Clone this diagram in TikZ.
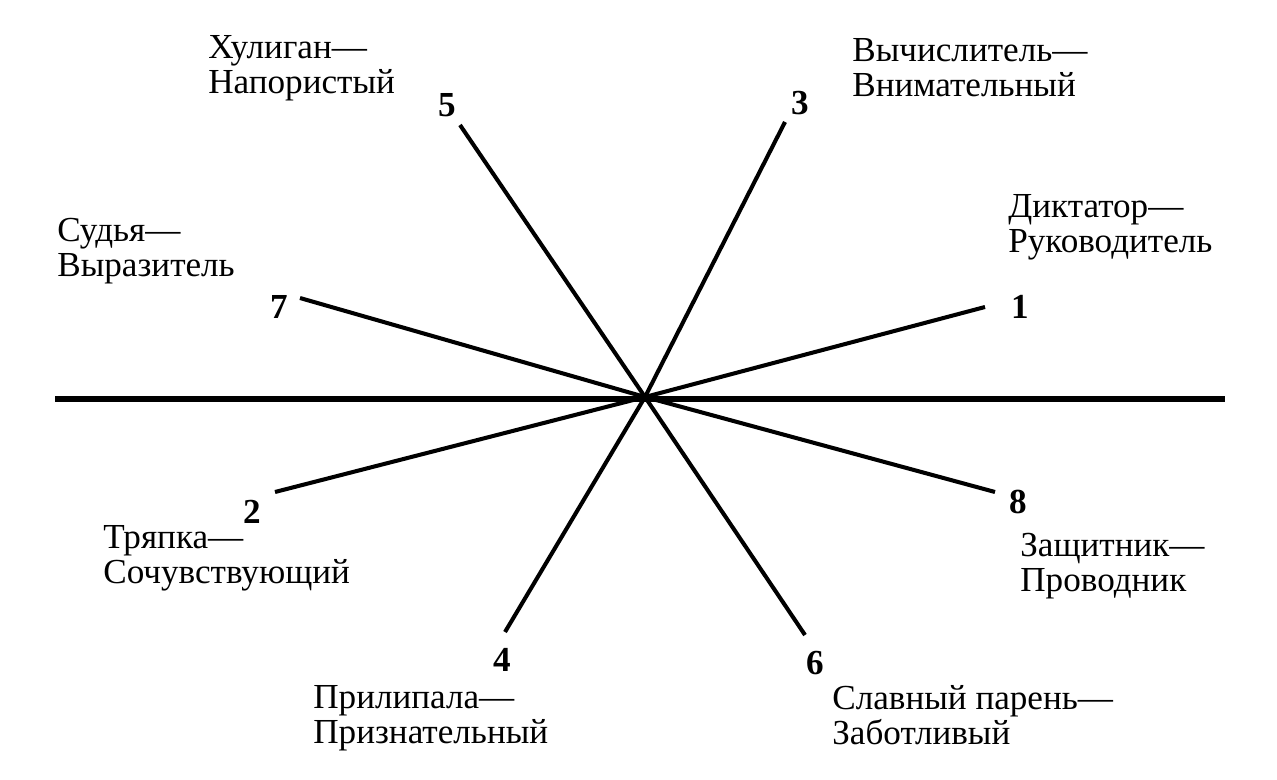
\documentclass[tikz,border=0pt]{standalone}
\usepackage{fontspec}
\setmainfont{Liberation Serif}
\begin{document}
\begin{tikzpicture}[x=0.02cm,y=-0.02cm,
    role/.style={anchor=west, align=left, inner sep=0pt, font=\fontsize{20}{20}\selectfont},
    num/.style={inner sep=0pt, font=\fontsize{20}{20}\selectfont\bfseries},
    ray/.style={line width=2.3pt},
    axis/.style={line width=3.5pt}
]
\useasboundingbox (0,0) rectangle (1277,780);
\coordinate (centre) at (645,397);
\coordinate (left) at (55,399);
\coordinate (right) at (1225,399);
\coordinate (e1) at (985,307);
\coordinate (e2) at (275,492);
\coordinate (e3) at (785,122);
\coordinate (e4) at (505,632);
\coordinate (e5) at (460,125);
\coordinate (e6) at (805,635);
\coordinate (e7) at (300,298);
\coordinate (e8) at (995,492);

\node[num] (n1) at (1020,307) {1};
\node[num] (n2) at (252,512) {2};
\node[num] (n3) at (800,103) {3};
\node[num] (n4) at (502,660) {4};
\node[num] (n5) at (447,105) {5};
\node[num] (n6) at (815,663) {6};
\node[num] (n7) at (279,307) {7};
\node[num] (n8) at (1018,502) {8};

\node[role] (r5) at (208,68) {Хулиган—\\Напористый};
\node[role] (r3) at (852,68) {Вычислитель—\\Внимательный};
\node[role] (r1) at (1008,227) {Диктатор—\\Руководитель};
\node[role] (r7) at (57,251) {Судья—\\Выразитель};
\node[role] (r2) at (103,558) {Тряпка—\\Сочувствующий};
\node[role] (r8) at (1020,566) {Защитник—\\Проводник};
\node[role] (r4) at (313,718) {Прилипала—\\Признательный};
\node[role] (r6) at (832,715) {Славный парень—\\Заботливый};

\draw[axis] (left) -- (right);
\foreach \i in {1,...,8}
  \draw[ray] (centre) -- (e\i);
\end{tikzpicture}
\end{document}
